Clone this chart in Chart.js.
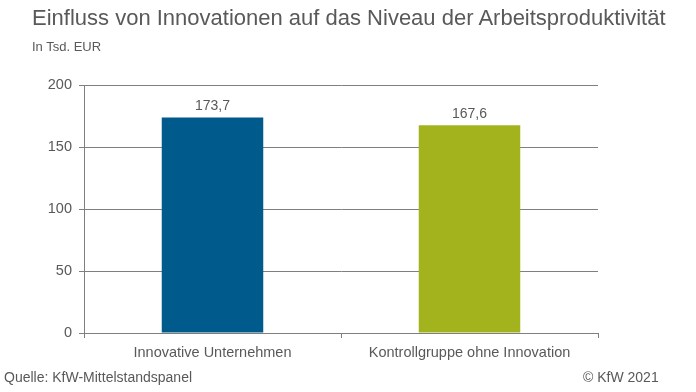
<!DOCTYPE html>
<html>
<head>
<meta charset="utf-8">
<script src="https://cdn.jsdelivr.net/npm/chart.js@4/dist/chart.umd.min.js"></script>
<style>
  html, body { margin: 0; padding: 0; background: #fff; }
  body { width: 696px; height: 392px; position: relative; overflow: hidden;
         font-family: "Liberation Sans", Arial, sans-serif; color: #595959; }
  #wrap { position: absolute; left: 0; top: 0; width: 696px; height: 392px; }
  .txt { position: absolute; white-space: nowrap; }
  #title { left: 32px; top: 5px; font-size: 22px; }
  #unit { left: 32px; top: 39px; font-size: 13px; }
  #source { left: 4px; top: 369px; font-size: 14px; }
  #copy { left: 583px; top: 369px; font-size: 14px; }
</style>
</head>
<body>
<div id="wrap"><canvas id="chart" width="696" height="392"></canvas></div>
<div class="txt" id="title">Einfluss von Innovationen auf das Niveau der Arbeitsproduktivität</div>
<div class="txt" id="unit">In Tsd. EUR</div>
<div class="txt" id="source">Quelle: KfW-Mittelstandspanel</div>
<div class="txt" id="copy">© KfW 2021</div>
<script>
const categories = ['Innovative Unternehmen', 'Kontrollgruppe ohne Innovation'];
const values = [173.7, 167.6];
const barColors = ['#005a8c', '#a3b31e'];
const yTicks = [0, 50, 100, 150, 200];

const fmt = v => v.toFixed(1).replace('.', ',');

// value labels above the bars
const valueLabels = {
    id: 'valueLabels',
    afterDatasetsDraw(chart) {
        const ctx = chart.ctx;
        const meta = chart.getDatasetMeta(0);
        ctx.save();
        ctx.font = '14px "Liberation Sans", Arial, sans-serif';
        ctx.fillStyle = '#595959';
        ctx.textAlign = 'center';
        ctx.textBaseline = 'bottom';
        meta.data.forEach((bar, i) => {
            ctx.fillText(fmt(values[i]), bar.x, bar.y - 4);
        });
        ctx.restore();
    }
};

const ctx = document.getElementById('chart').getContext('2d');
new Chart(ctx, {
    type: 'bar',
    data: {
        labels: categories,
        datasets: [{
            data: values,
            backgroundColor: barColors,
            borderWidth: 0,
            barPercentage: 0.79,
            categoryPercentage: 0.5,
        }],
    },
    options: {
        responsive: false,
        animation: false,
        devicePixelRatio: 1,
        layout: { padding: { left: 0, top: 85, right: 98, bottom: 0 } },
        plugins: {
            legend: { display: false },
            tooltip: { enabled: false },
        },
        scales: {
            x: {
                offset: true,
                grid: {
                    offset: true,
                    drawOnChartArea: false,
                    drawTicks: true,
                    tickLength: 5,
                    color: '#7f7f7f',
                },
                border: { color: '#7f7f7f', width: 1 },
                ticks: {
                    color: '#595959',
                    font: { family: '"Liberation Sans", Arial, sans-serif', size: 14.5 },
                    padding: 6,
                    maxRotation: 0,
                    autoSkip: false,
                },
                afterFit: (scale) => { scale.height = 59; },
            },
            y: {
                min: 0,
                max: 200,
                afterBuildTicks: (scale) => { scale.ticks = yTicks.map(v => ({ value: v })); },
                grid: {
                    color: '#7f7f7f',
                    lineWidth: 1,
                    tickLength: 5,
                },
                border: { color: '#7f7f7f', width: 1 },
                ticks: {
                    color: '#595959',
                    font: { family: '"Liberation Sans", Arial, sans-serif', size: 14.5 },
                    padding: 7,
                },
                afterFit: (scale) => { scale.width = 84; },
            },
        },
    },
    plugins: [valueLabels],
});
</script>
</body>
</html>
